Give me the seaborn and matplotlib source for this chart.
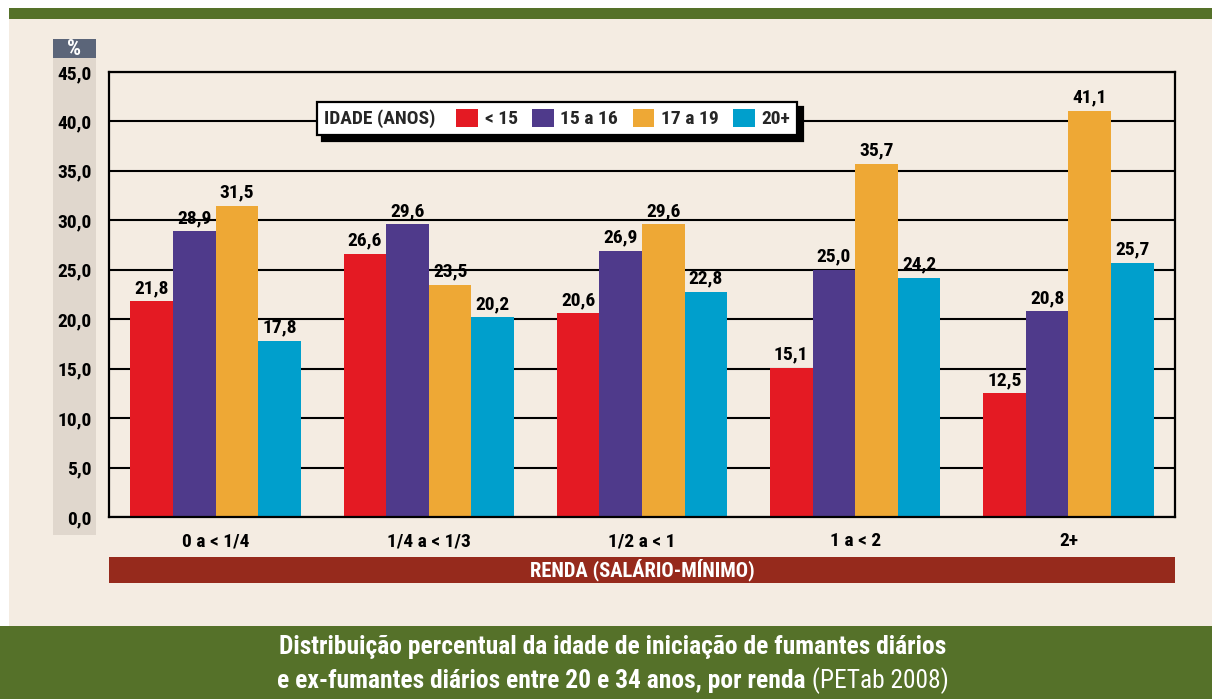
import numpy as np
import pandas as pd
import seaborn as sns
import matplotlib.pyplot as plt
from matplotlib import font_manager as fm
from matplotlib.patches import Rectangle, Patch
from matplotlib.offsetbox import HPacker


renda = ['0 a < 1/4', '1/4 a < 1/3', '1/2 a < 1', '1 a < 2', '2+']
idade = ['< 15', '15 a 16', '17 a 19', '20+']
menos_15 = [21.8, 26.6, 20.6, 15.1, 12.5]
de_15_16 = [28.9, 29.6, 26.9, 25.0, 20.8]
de_17_19 = [31.5, 23.5, 29.6, 35.7, 41.1]
mais_20 = [17.8, 20.2, 22.8, 24.2, 25.7]
y_ticks = [0, 5, 10, 15, 20, 25, 30, 35, 40, 45]

cores = ['#e41a23', '#4f3a8b', '#eea835', '#009fcc']
bege = '#f4ece2'
verde = '#557129'
faixa = '#962a1c'

df = pd.DataFrame({
    'renda': renda * 4,
    'idade': np.repeat(idade, len(renda)),
    'valor': menos_15 + de_15_16 + de_17_19 + mais_20,
})

sns.set_style('white')
# pick a narrow font if there is one
nomes = {f.name for f in fm.fontManager.ttflist}
narrow = next((n for n in ['Liberation Sans Narrow', 'DejaVu Sans Condensed', 'Roboto Condensed']
               if n in nomes), None)
plt.rcParams['font.family'] = [narrow or 'DejaVu Sans']
plt.rcParams['font.stretch'] = 'condensed'
plt.rcParams['font.weight'] = 'bold'

W, H = 1212, 699
fig = plt.figure(figsize=(W / 100, H / 100), dpi=100, facecolor='white')


def fx(px):
    return px / W


def fy(py):
    return 1 - py / H


def caixa(x0, y0, x1, y1, cor):
    fig.add_artist(Rectangle((fx(x0), fy(y1)), fx(x1) - fx(x0), fy(y0) - fy(y1),
                             transform=fig.transFigure, color=cor, lw=0, zorder=-1))


caixa(9, 19, W, 626, bege)
caixa(9, 8, W, 19, verde)
caixa(0, 626, W, H, verde)
caixa(53, 58, 96, 535, '#e0d7cd')
caixa(53, 39, 96, 58, '#5b6579')
caixa(109, 557, 1175, 583, faixa)

ax = fig.add_axes([fx(109), fy(517), fx(1175) - fx(109), fy(72) - fy(517)])
ax.set_facecolor('none')

sns.barplot(data=df, x='renda', y='valor', hue='idade', order=renda, hue_order=idade,
            palette=cores, saturation=1, width=0.8, linewidth=0, legend=False, ax=ax)

ax.set_ylim(0, 45)
ax.set_xlim(-0.5, 4.5)
ax.set_axisbelow(True)
ax.yaxis.grid(True, color='black', lw=1.5)
ax.set_yticks(y_ticks)
ax.set_yticklabels([f'{v:.1f}'.replace('.', ',') for v in y_ticks])
ax.set_xticks(np.arange(-0.5, 5, 1))
ax.set_xticklabels([])
ax.set_xticks(range(len(renda)), minor=True)
ax.set_xticklabels(renda, minor=True)
ax.tick_params(axis='y', length=6.5, width=1.6, pad=6, labelsize=14, colors='black')
ax.tick_params(axis='x', which='major', length=6, width=1.3, colors='black')
ax.tick_params(axis='x', which='minor', length=0, pad=11, labelsize=14, colors='black')
ax.set_xlabel('')
ax.set_ylabel('')
for s in ax.spines.values():
    s.set_visible(True)
    s.set_color('black')
    s.set_linewidth(1.6)

for c in ax.containers:
    ax.bar_label(c, fmt=lambda v: f'{v:.1f}'.replace('.', ','), padding=3,
                 fontsize=14, fontweight='bold', color='black')

handles = [Patch(facecolor=c, edgecolor='none') for c in cores]
leg = ax.legend(handles, idade, title='IDADE (ANOS)', loc='center',
                bbox_to_anchor=(fx(557), fy(118.5)), bbox_transform=fig.transFigure,
                ncol=4, frameon=True, fancybox=False, edgecolor='black', facecolor='white',
                framealpha=1, fontsize=14, title_fontproperties={'weight': 'bold', 'size': 14},
                handlelength=1.1, handleheight=1.1, handletextpad=0.35, columnspacing=0.75,
                borderpad=0.35,
                shadow={'ox': 4, 'oy': -4, 'facecolor': 'black', 'edgecolor': 'black', 'alpha': 1})
leg.get_frame().set_linewidth(1.6)
# title beside the entries instead of above them
caixa_leg = HPacker(pad=leg.borderpad * leg._fontsize, sep=1.1 * leg._fontsize, align='center',
                    children=[leg._legend_title_box, leg._legend_handle_box])
caixa_leg.set_figure(fig)
caixa_leg.axes = ax
leg._legend_box = caixa_leg
caixa_leg.set_offset(leg._findoffset)

fig.text(fx(74.5), fy(49), '%', color='white', fontsize=16, ha='center', va='center')
fig.text(fx(642), fy(570), 'RENDA (SALÁRIO-MÍNIMO)', color='white', fontsize=14.8,
         ha='center', va='center')

fig.text(fx(613), fy(654), 'Distribuição percentual da idade de iniciação de fumantes diários',
         color='white', fontsize=18.4, ha='center', va='baseline')
t1 = fig.text(0, fy(688), 'e ex-fumantes diários entre 20 e 34 anos, por renda',
              color='white', fontsize=18.4, ha='left', va='baseline')
t2 = fig.text(0, fy(688), ' (PETab 2008)', color='white', fontsize=18.4,
              fontweight='normal', ha='left', va='baseline')
fig.canvas.draw()
r = fig.canvas.get_renderer()
w1 = t1.get_window_extent(r).width
w2 = t2.get_window_extent(r).width
x0 = 613 - (w1 + w2) / 2
t1.set_x(fx(x0))
t2.set_x(fx(x0 + w1))

fig.savefig('out.png', dpi=100, facecolor=fig.get_facecolor())
